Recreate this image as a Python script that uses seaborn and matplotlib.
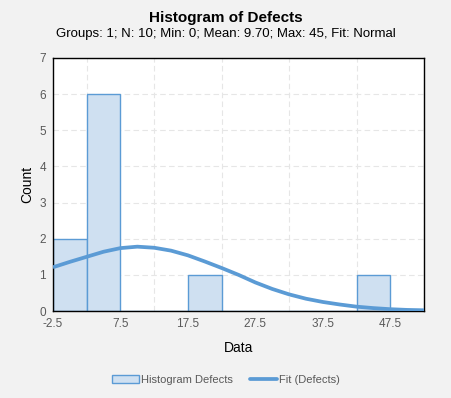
import matplotlib
matplotlib.use("Agg")
import matplotlib.pyplot as plt
import seaborn as sns
import numpy as np
import pandas as pd
from matplotlib.patches import Patch
from matplotlib.lines import Line2D

# Histogram bins (centers) and counts
bin_centers = [0, 5, 10, 15, 20, 25, 30, 35, 40, 45, 50]
bin_counts = [2, 6, 0, 0, 1, 0, 0, 0, 0, 1, 0]
bin_edges = [-2.5, 2.5, 7.5, 12.5, 17.5, 22.5, 27.5, 32.5, 37.5, 42.5, 47.5, 52.5]

# Normal fit curve
fit_x = [-2.5, 0, 2.5, 5, 7.5, 10, 12.5, 15, 17.5, 20, 22.5, 25, 27.5, 30,
         32.5, 35, 37.5, 40, 42.5, 45, 47.5, 50, 52.5]
fit_y = [1.21, 1.36, 1.50, 1.64, 1.74, 1.78, 1.75, 1.67, 1.54, 1.37, 1.19, 1.00,
         0.79, 0.61, 0.46, 0.34, 0.25, 0.18, 0.12, 0.08, 0.05, 0.03, 0.02]

x_ticks = [-2.5, 7.5, 17.5, 27.5, 37.5, 47.5]
y_ticks = [0, 1, 2, 3, 4, 5, 6, 7]

sns.set_style("white")
plt.rcParams['font.family'] = ['Liberation Sans', 'DejaVu Sans']

hist_df = pd.DataFrame({"Data": bin_centers, "Count": bin_counts})
fit_df = pd.DataFrame({"Data": fit_x, "Count": fit_y})

fig = plt.figure(figsize=(4.51, 3.98), dpi=100, facecolor="#f2f2f2")
ax = fig.add_axes([53/451, 1-311/398, (424-53)/451, (311-58)/398])
ax.set_facecolor("white")

sns.histplot(data=hist_df, x="Data", weights="Count", bins=bin_edges, ax=ax,
             color="#cfe0f1", edgecolor="#5b9bd5", linewidth=1.0, alpha=1.0, zorder=2)
sns.lineplot(data=fit_df, x="Data", y="Count", ax=ax, color="#5b9bd5", linewidth=2.7,
             zorder=3, solid_joinstyle="round", solid_capstyle="butt")

ax.set_xlim(-2.5, 52.5)
ax.set_ylim(0, 7)
ax.set_xticks(x_ticks)
ax.set_xticklabels([str(t) for t in x_ticks])
ax.set_yticks(y_ticks)
ax.set_xticks(bin_edges, minor=True)
ax.grid(True, which="minor", axis="x", color="#e6e6e6", linestyle=(0, (5, 3)), linewidth=0.8, zorder=0)
ax.grid(True, which="major", axis="y", color="#e6e6e6", linestyle=(0, (5, 3)), linewidth=0.8, zorder=0)
ax.set_axisbelow(True)
ax.tick_params(axis="both", which="both", length=0, labelsize=8.5, labelcolor="#595959", pad=5)
for s in ax.spines.values():
    s.set_visible(True)
    s.set_color("black")
    s.set_linewidth(1.0)

ax.set_xlabel("Data", fontsize=10, color="black", labelpad=8)
ax.set_ylabel("Count", fontsize=10, color="black", labelpad=4)

fig.text(0.5, 1-18/398, "Histogram of Defects", ha="center", va="center",
         fontsize=11, fontweight="bold", color="black")
fig.text(0.5, 1-34/398, "Groups: 1; N: 10; Min: 0; Mean: 9.70; Max: 45, Fit: Normal",
         ha="center", va="center", fontsize=9.5, color="black")

handles = [Patch(facecolor="#cfe0f1", edgecolor="#5b9bd5", linewidth=1.0),
           Line2D([0], [0], color="#5b9bd5", linewidth=2.7)]
fig.legend(handles, ["Histogram Defects", "Fit (Defects)"], loc="center",
           bbox_to_anchor=(226/451, 1-380/398), ncol=2, frameon=False,
           fontsize=8, labelcolor="#595959", handlelength=2.4, handletextpad=0.2,
           columnspacing=1.5)

fig.savefig("out.png", dpi=100, facecolor=fig.get_facecolor())
